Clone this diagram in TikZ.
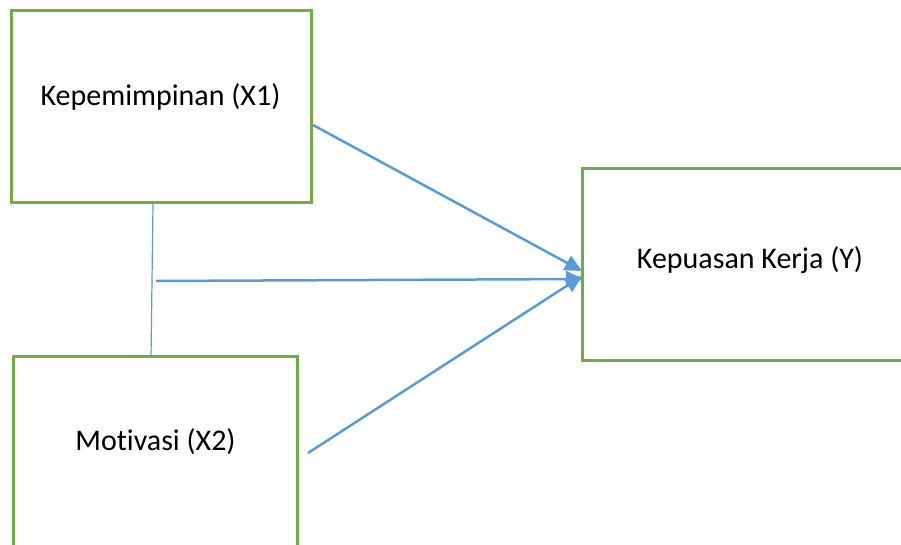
\documentclass[tikz,border=0pt]{standalone}
\usepackage{fontspec}
\setmainfont{Carlito}[Ligatures=NoCommon]
\usetikzlibrary{arrows.meta}
\definecolor{boxgreen}{RGB}{112,173,71}
\definecolor{lineblue}{RGB}{91,155,213}
\begin{document}
\begin{tikzpicture}[x=1pt,y=-1pt,
  box/.style={draw=boxgreen,line width=3pt,rectangle,inner sep=0pt},
  lbl/.style={anchor=base,inner sep=0pt,font=\fontsize{30}{36}\selectfont},
  conn/.style={draw=lineblue,line width=2.5pt,-{Triangle[length=17pt,width=16pt]}},
  thinconn/.style={draw=lineblue,line width=1.2pt}]
\useasboundingbox (0,0) rectangle (901,545);
\clip (0,0) rectangle (901,545);
\node[box,minimum width=300pt,minimum height=192pt] (b1) at (161,107) {};
\node[box,minimum width=284pt,minimum height=250pt] (b2) at (155,481) {};
\node[box,minimum width=418pt,minimum height=191pt] (b3) at (791,264.5) {};
\node[lbl] (t1) at (160.5,106) {Kepemimpinan (X1)};
\node[lbl] (t2) at (155.5,450) {Motivasi (X2)};
\node[lbl] (t3) at (750,268) {Kepuasan Kerja (Y)};
\coordinate (s1) at (313,125);
\coordinate (s2) at (156,281);
\coordinate (s3) at (308,453);
\coordinate (e1) at (582,271);
\coordinate (e2) at (583,279);
\coordinate (e3) at (582,276);
\coordinate (v1) at (153,204);
\coordinate (v2) at (151,358);
\draw[thinconn] (v1) -- (v2);
\draw[conn] (s1) -- (e1);
\draw[conn] (s2) -- (e2);
\draw[conn] (s3) -- (e3);
\end{tikzpicture}
\end{document}
